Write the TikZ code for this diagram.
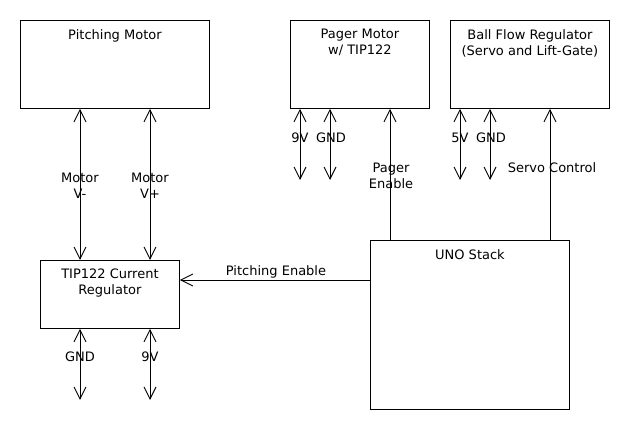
\documentclass[tikz,border=0pt]{standalone}
\usepackage{fontspec}
\setmainfont{DejaVu Sans}
\usetikzlibrary{arrows.meta,positioning}

\tikzset{
    blk/.style={draw, line width=0.9pt, inner sep=0pt, anchor=north west},
    ttl/.style={anchor=north, align=center, inner sep=0pt},
    wire/.style={line width=0.9pt},
    head/.style={-{Straight Barb[length=12pt,width=12pt,line width=0.9pt]}},
    both/.style={{Straight Barb[length=12pt,width=12pt,line width=0.9pt]}-{Straight Barb[length=12pt,width=12pt,line width=0.9pt]}},
    lbl/.style={align=center, inner sep=0pt}
}

\begin{document}
\begin{tikzpicture}[x=1pt, y=-1pt, font=\fontsize{13}{16}\selectfont]
    \useasboundingbox (0,0) rectangle (630,430);

    % Blocks
    \node[blk, minimum width=189pt, minimum height=88pt] (pitch) at (20,20) {};
    \node[blk, minimum width=139pt, minimum height=88pt] (pager) at (290,20) {};
    \node[blk, minimum width=159pt, minimum height=88pt] (ball) at (450,20) {};
    \node[blk, minimum width=139pt, minimum height=68pt] (tip) at (40,260) {};
    \node[blk, minimum width=199pt, minimum height=169pt] (uno) at (370,240) {};

    % Block titles
    \node[ttl, below=9pt of pitch.north] (pitchT) {Pitching Motor};
    \node[ttl, below=9pt of pager.north] (pagerT) {Pager Motor\\w/ TIP122};
    \node[ttl, below=9pt of ball.north] (ballT) {Ball Flow Regulator\\(Servo and Lift-Gate)};
    \node[ttl, below=9pt of tip.north] (tipT) {TIP122 Current\\Regulator};
    \node[ttl, below=9pt of uno.north] (unoT) {UNO Stack};

    % Free wire ends
    \coordinate (tipGnd) at (80,400);
    \coordinate (tip9v) at (150,400);
    \coordinate (pager9v) at (300,180);
    \coordinate (pagerGnd) at (330,180);
    \coordinate (ball5v) at (460,180);
    \coordinate (ballGnd) at (490,180);

    % Motor leads
    \draw[wire, both] (tip.north -| 80,0) -- (pitch.south -| 80,0);
    \draw[wire, both] (tip.north -| 150,0) -- (pitch.south -| 150,0);
    \node[lbl] (vminus) at (80,186) {Motor\\V-};
    \node[lbl] (vplus) at (150,186) {Motor\\V+};

    % Regulator supply
    \draw[wire, both] (tip.south -| tipGnd) -- (tipGnd);
    \draw[wire, both] (tip.south -| tip9v) -- (tip9v);
    \node[lbl] (gndA) at (80,357) {GND};
    \node[lbl] (nineA) at (150,357) {9V};

    % Pager motor supply
    \draw[wire, both] (pager.south -| pager9v) -- (pager9v);
    \draw[wire, both] (pager.south -| pagerGnd) -- (pagerGnd);
    \node[lbl] (nineB) at (300,138) {9V};
    \node[lbl] (gndB) at (331,138) {GND};

    % Servo supply
    \draw[wire, both] (ball.south -| ball5v) -- (ball5v);
    \draw[wire, both] (ball.south -| ballGnd) -- (ballGnd);
    \node[lbl] (fiveC) at (460,138) {5V};
    \node[lbl] (gndC) at (491,138) {GND};

    % Control lines from the UNO
    \draw[wire, head] (uno.north -| 390,0) -- (pager.south -| 390,0);
    \node[lbl] (pagerEn) at (391,176) {Pager\\Enable};
    \draw[wire, head] (uno.north -| 550,0) -- (ball.south -| 550,0);
    \node[lbl] (servoCtl) at (552,168) {Servo Control};
    \draw[wire, head] (uno.west |- 0,280) -- (tip.east |- 0,280);
    \node[lbl] (pitchEn) at (276,272) {Pitching Enable};

\end{tikzpicture}
\end{document}
